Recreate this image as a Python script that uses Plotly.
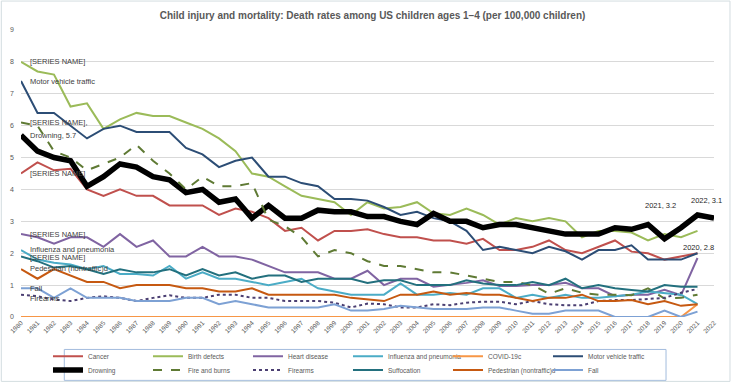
import plotly.graph_objects as go

years = list(range(1980, 2023))
year_labels = [str(y) for y in years]
y_ticks = list(range(0, 10))

cancer = [4.5, 4.85, 4.6, 4.65, 4.0, 3.8, 4.0, 3.8, 3.8, 3.5, 3.5,
          3.5, 3.2, 3.4, 3.3, 3.1, 2.7, 2.8, 2.4, 2.7, 2.7,
          2.75, 2.6, 2.5, 2.5, 2.4, 2.4, 2.3, 2.45, 2.1, 2.1,
          2.2, 2.4, 2.1, 2.0, 2.2, 2.4, 2.05, 2.0, 1.8, 1.9, 2.0, None]
birth_defects = [8.0, 7.7, 7.6, 6.6, 6.7, 5.9, 6.2, 6.4, 6.3, 6.3, 6.1,
                 5.9, 5.6, 5.2, 4.5, 4.4, 4.1, 3.8, 3.7, 3.6, 3.2,
                 3.6, 3.4, 3.45, 3.6, 3.25, 3.2, 3.4, 3.2, 2.9, 3.1,
                 3.0, 3.1, 3.0, 2.5, 2.7, 2.7, 2.65, 2.4, 2.6, 2.5, 2.7, None]
heart_disease = [2.6, 2.5, 2.3, 2.5, 2.5, 2.2, 2.6, 2.2, 2.4, 1.9, 1.9,
                 2.2, 1.9, 1.9, 1.8, 1.6, 1.4, 1.4, 1.4, 1.2, 1.2,
                 1.45, 1.0, 1.2, 1.2, 0.95, 1.0, 1.07, 1.15, 0.97, 0.97,
                 1.0, 1.0, 1.07, 0.9, 0.9, 0.65, 0.7, 0.7, 0.85, 0.68, 1.85, None]
influenza = [2.1, 1.8, 1.7, 1.65, 1.5, 1.6, 1.35, 1.35, 1.3, 1.6, 1.2,
             1.4, 1.2, 1.2, 1.1, 1.0, 1.1, 1.2, 0.9, 0.8, 0.7,
             0.7, 0.7, 1.05, 0.7, 0.7, 0.75, 0.7, 0.9, 0.9, 0.6,
             0.7, 0.6, 0.7, 0.6, 0.6, 0.65, 0.7, 0.8, 0.76, 0.7, 0.4, None]
covid = [0.0] * 41 + [0.4, None]
motor_vehicle = [7.4, 6.4, 6.4, 6.0, 5.6, 5.9, 6.0, 5.8, 5.8, 5.8, 5.3,
                 5.1, 4.7, 4.9, 5.0, 4.4, 4.4, 4.2, 4.1, 3.7, 3.7,
                 3.65, 3.45, 3.2, 3.3, 3.1, 3.0, 2.7, 2.1, 2.2, 2.1,
                 2.0, 2.2, 2.06, 1.8, 2.1, 2.1, 2.25, 1.8, 1.8, 1.8, 2.0, None]
drowning = [5.7, 5.2, 5.0, 4.9, 4.1, 4.4, 4.8, 4.7, 4.4, 4.3, 3.9,
            4.0, 3.6, 3.7, 3.1, 3.5, 3.1, 3.1, 3.35, 3.3, 3.3,
            3.15, 3.15, 3.0, 2.9, 3.25, 3.0, 3.0, 2.8, 2.9, 2.9,
            2.8, 2.7, 2.6, 2.6, 2.6, 2.8, 2.75, 2.9, 2.45, 2.8, 3.2, 3.1]
fire_burns = [6.1, 6.0, 5.2, 5.0, 4.6, 4.8, 5.0, 5.4, 4.9, 4.5, 4.0,
              4.4, 4.1, 4.1, 4.2, 3.05, 2.85, 2.5, 1.9, 2.1, 2.0,
              1.75, 1.6, 1.6, 1.5, 1.4, 1.4, 1.3, 1.2, 1.1, 1.1,
              1.0, 0.73, 0.9, 0.76, 0.7, 0.7, 0.68, 0.9, 0.58, 0.6, 0.7, None]
firearms = [0.7, 0.65, 0.55, 0.5, 0.6, 0.65, 0.6, 0.5, 0.6, 0.68, 0.6,
            0.6, 0.7, 0.7, 0.6, 0.6, 0.5, 0.5, 0.5, 0.45, 0.3,
            0.42, 0.4, 0.3, 0.3, 0.4, 0.37, 0.45, 0.48, 0.48, 0.4,
            0.5, 0.4, 0.37, 0.37, 0.5, 0.53, 0.53, 0.57, 0.6, 0.76, 0.88, None]
suffocation = [1.9, 1.75, 1.55, 1.6, 1.5, 1.35, 1.5, 1.4, 1.4, 1.5, 1.3,
               1.5, 1.3, 1.4, 1.2, 1.3, 1.3, 1.1, 1.2, 1.2, 1.2,
               1.07, 1.15, 1.15, 1.0, 1.0, 1.0, 1.15, 1.05, 1.0, 1.0,
               1.1, 1.0, 1.2, 0.9, 1.0, 0.9, 0.85, 0.8, 1.0, 0.95, 0.95, None]
pedestrian = [1.5, 1.2, 1.5, 1.3, 1.1, 1.1, 0.9, 1.0, 1.0, 1.0, 0.9,
              0.9, 0.8, 0.8, 0.9, 0.7, 0.7, 0.7, 0.7, 0.7, 0.6,
              0.55, 0.5, 0.7, 0.7, 0.8, 0.7, 0.75, 0.7, 0.7, 0.6,
              0.5, 0.6, 0.6, 0.7, 0.5, 0.5, 0.53, 0.4, 0.5, 0.35, 0.4, None]
fall = [0.9, 0.9, 0.6, 0.9, 0.6, 0.6, 0.6, 0.5, 0.5, 0.5, 0.6,
        0.6, 0.4, 0.5, 0.4, 0.3, 0.3, 0.3, 0.3, 0.4, 0.2,
        0.2, 0.25, 0.35, 0.3, 0.25, 0.25, 0.25, 0.3, 0.3, 0.2,
        0.1, 0.1, 0.2, 0.2, 0.2, 0.0, 0.0, 0.0, 0.2, 0.0, 0.17, None]

series = [
    ("Cancer", cancer, "#C0504D", 2, "solid", "legend"),
    ("Birth defects", birth_defects, "#9BBB59", 2, "solid", "legend"),
    ("Heart disease", heart_disease, "#8064A2", 2, "solid", "legend"),
    ("Influenza and pneumonia", influenza, "#4BACC6", 2, "solid", "legend"),
    ("COVID-19c", covid, "#F79646", 2, "solid", "legend"),
    ("Motor vehicle traffic", motor_vehicle, "#2C4D75", 2, "solid", "legend"),
    ("Drowning", drowning, "#000000", 5.5, "solid", "legend2"),
    ("Fire and burns", fire_burns, "#5F7A34", 2, "dash", "legend2"),
    ("Firearms", firearms, "#4B3F72", 2, "dot", "legend2"),
    ("Suffocation", suffocation, "#23707E", 2, "solid", "legend2"),
    ("Pedestrian (nontraffic)d", pedestrian, "#C65911", 2, "solid", "legend2"),
    ("Fall", fall, "#7DA1D4", 2, "solid", "legend2"),
]

FONT = "Liberation Sans"
GRAY = "#595959"

fig = go.Figure()
for i, (name, vals, color, width, dash, leg) in enumerate(series):
    fig.add_trace(go.Scatter(
        x=years, y=vals, name=name, mode="lines",
        line=dict(color=color, width=width, dash=dash),
        legend=leg, connectgaps=False,
        legendwidth=(90 if i in (5, 11) else None),
    ))

# start-of-line data labels
start_labels = [
    ("[SERIES NAME]", birth_defects[0], 0),
    ("Motor vehicle traffic", motor_vehicle[0], 0),
    ("[SERIES NAME],", fire_burns[0], 0),
    ("Drowning, 5.7", drowning[0], 0),
    ("[SERIES NAME]", cancer[0], 0),
    ("[SERIES NAME]", heart_disease[0], 0),
    ("Influenza and pneumonia", influenza[0], 1),
    ("[SERIES NAME]", suffocation[0], -1),
    ("Pedestrian (nontraffic)d", pedestrian[0], 1),
    ("Fall", fall[0], 0),
    ("Firearms", firearms[0], -4),
]
for text, yv, shift in start_labels:
    fig.add_annotation(x=years[0] + 0.4, y=yv, text=text, xref="x", yref="y",
                       xanchor="left", yanchor="middle", showarrow=False,
                       yshift=shift,
                       font=dict(family=FONT, size=7.5, color="#404040"))

# end-of-line data labels (drowning)
end_labels = [
    ("2021, 3.2", 660, 205.5),
    ("2022, 3.1", 706, 200.5),
    ("2020, 2.8", 698, 248),
]
for text, px, py in end_labels:
    fig.add_annotation(x=(px - 20.7) / 693.3, y=(317.5 - py) / 287.5, xref="paper", yref="paper",
                       text=text, showarrow=False, xanchor="center", yanchor="middle",
                       font=dict(family=FONT, size=7.5, color="#262626"))

# legend box and outer chart border
fig.add_shape(type="rect", xref="paper", yref="paper",
              x0=(64 - 20.7) / 693.3, x1=(666 - 20.7) / 693.3,
              y0=(317.5 - 381) / 287.5, y1=(317.5 - 350) / 287.5,
              line=dict(color="#A3BCDD", width=1), fillcolor="rgba(0,0,0,0)")
fig.add_shape(type="rect", xref="paper", yref="paper",
              x0=(1 - 20.7) / 693.3, x1=(730 - 20.7) / 693.3,
              y0=(317.5 - 382) / 287.5, y1=(317.5 - 1) / 287.5,
              line=dict(color="#D3DDE0", width=1), fillcolor="rgba(0,0,0,0)")

leg_common = dict(orientation="h", xanchor="left", yanchor="middle",
                  entrywidth=55, entrywidthmode="pixels",
                  font=dict(family=FONT, size=6.5, color=GRAY),
                  bgcolor="rgba(0,0,0,0)", borderwidth=0, itemwidth=30,
                  traceorder="normal")

fig.update_layout(
    width=734, height=384,
    margin=dict(l=20.7, r=20, t=30, b=66.5, autoexpand=False),
    paper_bgcolor="white", plot_bgcolor="white",
    title=dict(text="<b>Child injury and mortality: Death rates among US children ages 1–4 (per 100,000 children)</b>",
               x=372.5 / 734, xanchor="center", y=1 - 15 / 384, yanchor="middle",
               xref="container", yref="container",
               font=dict(family=FONT, size=10, color=GRAY)),
    legend=dict(x=(47.7 - 20.7) / 693.3, y=(317.5 - 356.7) / 287.5, **leg_common),
    legend2=dict(x=(47.7 - 20.7) / 693.3, y=(317.5 - 370.7) / 287.5, **leg_common),
    showlegend=True,
    hovermode=False,
)
fig.update_xaxes(range=[1980, 2022], tickvals=years, ticktext=year_labels,
                 tickangle=-45, tickfont=dict(family=FONT, size=6.5, color=GRAY),
                 showgrid=False, zeroline=False, showline=False, ticks="")
fig.update_yaxes(range=[0, 9], tickvals=y_ticks,
                 tickfont=dict(family=FONT, size=7, color=GRAY),
                 showgrid=True, gridcolor="#D9D9D9", gridwidth=1,
                 zeroline=False, showline=False, ticks="", ticklabelstandoff=6)

fig.write_html("out.html", config={"displayModeBar": False},
               post_script="document.body.style.margin='0';document.body.style.overflow='hidden';")
